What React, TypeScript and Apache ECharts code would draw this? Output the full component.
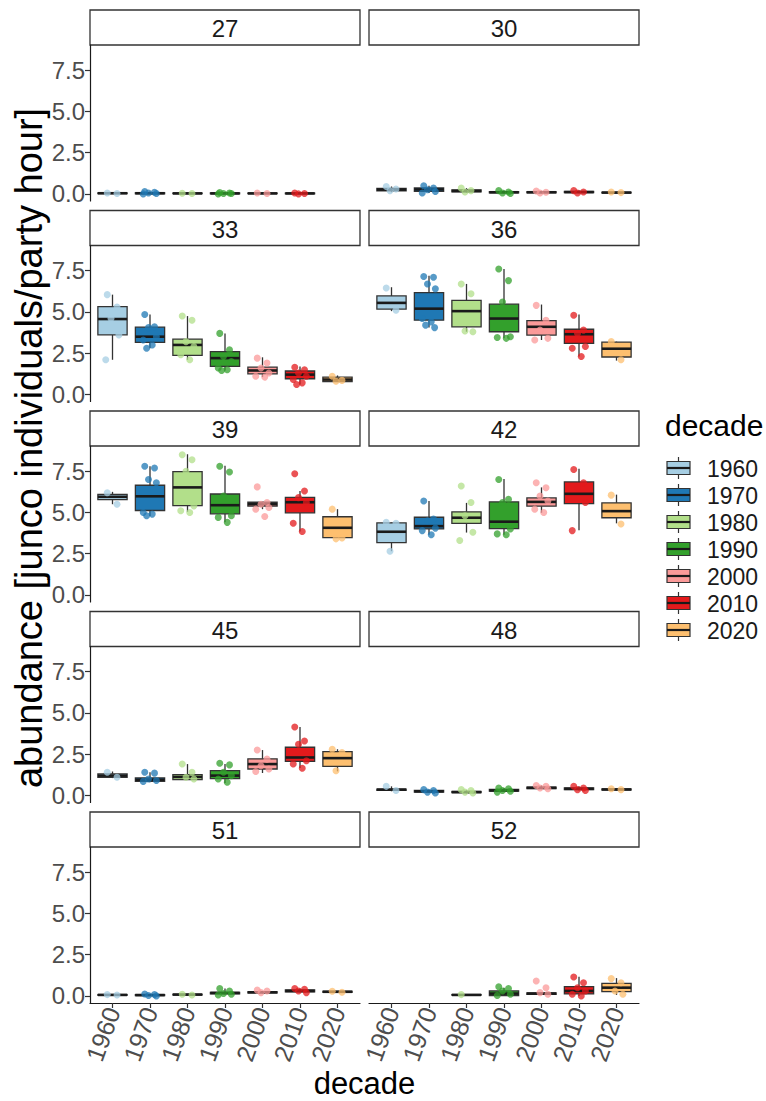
import React, { useEffect, useRef } from "react";
import * as echarts from "echarts";

// ---------- data ----------
const decades = ["1960", "1970", "1980", "1990", "2000", "2010", "2020"];
const decadeColors = ["#A6CEE3", "#1F78B4", "#B2DF8A", "#33A02C", "#FB9A99", "#E31A1C", "#FDBF6F"];
const facets = ["27", "30", "33", "36", "39", "42", "45", "48", "51", "52"];
const yTicks = [0, 2.5, 5, 7.5];
const jitter = [-0.14, 0.12, -0.04, 0.17, -0.18, 0.06, -0.09, 0.15];

// box stats per decade: [lower whisker, q1, median, q3, upper whisker]
const box27 = [[0.0, 0.02, 0.04, 0.06, 0.1], [0.0, 0.01, 0.04, 0.07, 0.15], [0.0, 0.02, 0.03, 0.05, 0.08], [0.0, 0.01, 0.03, 0.06, 0.1], [0.0, 0.02, 0.03, 0.05, 0.08], [0.0, 0.01, 0.03, 0.05, 0.07], null];
const box30 = [[0.1, 0.18, 0.26, 0.34, 0.45], [0.05, 0.15, 0.27, 0.36, 0.5], [0.08, 0.12, 0.18, 0.24, 0.35], [0.02, 0.06, 0.1, 0.14, 0.2], [0.04, 0.07, 0.1, 0.13, 0.18], [0.04, 0.08, 0.11, 0.15, 0.2], [0.04, 0.06, 0.08, 0.1, 0.12]];
const box33 = [[2.1, 3.61, 4.57, 5.32, 6.05], [2.8, 3.15, 3.5, 4.08, 4.85], [2.1, 2.37, 3.0, 3.35, 4.75], [1.45, 1.7, 2.2, 2.6, 3.7], [1.05, 1.25, 1.45, 1.65, 2.25], [0.6, 0.95, 1.2, 1.42, 1.7], [0.75, 0.78, 0.9, 1.05, 1.15]];
const box36 = [[5.05, 5.17, 5.55, 5.97, 6.5], [4.05, 4.5, 5.2, 6.17, 7.2], [3.8, 4.1, 5.05, 5.7, 6.7], [3.4, 3.8, 4.6, 5.47, 7.6], [3.3, 3.6, 4.1, 4.47, 5.45], [2.3, 3.1, 3.65, 3.95, 4.85], [2.05, 2.27, 2.77, 3.17, 3.2]];
const box39 = [[5.5, 5.78, 5.95, 6.1, 6.25], [4.78, 5.12, 5.98, 6.65, 7.8], [5.04, 5.42, 6.52, 7.48, 8.53], [4.4, 4.92, 5.44, 6.12, 7.83], [5.2, 5.38, 5.5, 5.62, 5.65], [3.85, 4.98, 5.62, 5.92, 6.3], [3.45, 3.47, 4.07, 4.74, 5.2]];
const box42 = [[2.65, 3.17, 3.83, 4.37, 4.4], [3.65, 4.0, 4.17, 4.71, 5.7], [3.78, 4.34, 4.68, 5.04, 5.58], [3.65, 4.02, 4.44, 5.64, 7.03], [4.98, 5.38, 5.64, 5.88, 6.52], [3.92, 5.54, 6.13, 6.85, 7.65], [4.34, 4.68, 5.08, 5.58, 6.08]];
const box45 = [[1.05, 1.1, 1.2, 1.3, 1.45], [0.8, 0.86, 0.95, 1.06, 1.4], [0.95, 0.96, 1.12, 1.26, 1.9], [0.76, 1.02, 1.2, 1.5, 1.9], [1.36, 1.6, 1.9, 2.22, 2.75], [1.66, 2.06, 2.3, 2.92, 4.15], [1.46, 1.76, 2.26, 2.66, 2.8]];
const box48 = [[0.25, 0.3, 0.35, 0.38, 0.55], [0.15, 0.2, 0.25, 0.3, 0.35], [0.12, 0.17, 0.2, 0.24, 0.3], [0.2, 0.26, 0.3, 0.36, 0.45], [0.38, 0.42, 0.46, 0.5, 0.6], [0.3, 0.35, 0.4, 0.45, 0.55], [0.3, 0.33, 0.36, 0.39, 0.42]];
const box51 = [[0.03, 0.04, 0.06, 0.08, 0.1], [0.0, 0.02, 0.05, 0.08, 0.12], [0.04, 0.06, 0.08, 0.1, 0.12], [0.08, 0.12, 0.18, 0.22, 0.45], [0.15, 0.18, 0.22, 0.25, 0.3], [0.2, 0.24, 0.3, 0.36, 0.45], [0.2, 0.22, 0.25, 0.28, 0.3]];
const box52 = [null, null, [0.04, 0.05, 0.06, 0.08, 0.1], [0.0, 0.02, 0.14, 0.3, 0.5], [0.08, 0.1, 0.14, 0.18, 0.2], [0.0, 0.12, 0.3, 0.56, 1.16], [0.06, 0.26, 0.5, 0.76, 1.08]];

// jittered observations per decade
const pts27 = [[0.05, 0.03], [0.15, 0.1, 0.05, 0.02, 0.0], [0.04, 0.02], [0.08, 0.05, 0.03, 0.02, 0.0], [0.06, 0.03], [0.05, 0.02, 0.0], []];
const pts30 = [[0.45, 0.3, 0.2], [0.5, 0.35, 0.25, 0.15, 0.05], [0.35, 0.2, 0.12], [0.2, 0.12, 0.06, 0.02], [0.18, 0.1, 0.05], [0.2, 0.12, 0.05], [0.12, 0.08]];
const pts33 = [[6.05, 5.3, 4.6, 3.6, 2.1], [4.85, 4.1, 4.05, 3.5, 3.3, 3.0, 2.8], [4.75, 4.5, 3.2, 2.9, 2.4, 2.1], [3.7, 2.7, 2.3, 2.0, 1.6, 1.5, 1.45], [2.2, 1.9, 1.6, 1.3, 1.1, 1.05], [1.65, 1.5, 1.3, 1.1, 0.9, 0.7, 0.6], [1.1, 0.85, 0.8]];
const pts36 = [[6.45, 5.1], [7.15, 7.1, 6.7, 6.4, 4.6, 4.4, 4.2, 4.05], [6.7, 6.1, 3.85, 3.8], [7.6, 6.9, 5.6, 3.5, 3.45, 3.4], [5.4, 4.5, 3.9, 3.4, 3.3], [4.8, 3.9, 3.7, 2.9, 2.8, 2.3], [3.2, 2.1]];
const pts39 = [[6.2, 5.5], [7.8, 7.7, 7.0, 6.8, 5.0, 4.9, 4.8], [8.5, 8.2, 7.5, 5.4, 5.1, 5.0], [7.8, 7.45, 6.0, 4.8, 4.7, 4.4], [6.55, 5.6, 5.5, 5.3, 5.2, 4.75], [7.35, 6.3, 5.9, 5.6, 4.35, 3.85], [5.2, 3.45, 3.4]];
const pts42 = [[4.4, 4.35, 2.65], [5.7, 4.6, 4.5, 4.05, 3.9, 3.65], [6.6, 5.6, 4.8, 3.8, 3.3], [7.0, 5.8, 5.6, 4.0, 3.7, 3.65], [6.8, 6.5, 6.0, 5.7, 5.2, 5.0], [7.6, 6.8, 6.5, 5.6, 3.9], [6.05, 4.3]];
const pts45 = [[1.4, 1.1], [1.4, 1.35, 1.0, 0.9, 0.85], [1.9, 1.4, 1.1, 1.0], [1.95, 1.85, 1.4, 1.2, 1.0, 0.8], [2.75, 2.2, 1.8, 1.6, 1.45], [4.15, 3.3, 3.1, 2.1, 1.9, 1.65], [2.8, 2.6, 1.5]];
const pts48 = [[0.55, 0.3], [0.35, 0.3, 0.2, 0.15], [0.35, 0.3, 0.2, 0.15], [0.45, 0.4, 0.3, 0.25, 0.2], [0.6, 0.55, 0.45, 0.4], [0.55, 0.45, 0.35, 0.3], [0.4, 0.35]];
const pts51 = [[0.08, 0.05], [0.12, 0.08, 0.02, 0.0], [0.1, 0.06], [0.45, 0.3, 0.15, 0.1, 0.05], [0.35, 0.3, 0.2], [0.45, 0.4, 0.3, 0.2], [0.28, 0.22]];
const pts52 = [[], [], [0.08], [0.55, 0.45, 0.3, 0.1, 0.02], [0.9, 0.5, 0.2, 0.1], [1.15, 0.8, 0.5, 0.3, 0.1, 0.0], [1.05, 0.8, 0.3, 0.1]];

const facetBoxes = [box27, box30, box33, box36, box39, box42, box45, box48, box51, box52];
const facetPoints = [pts27, pts30, pts33, pts36, pts39, pts42, pts45, pts48, pts51, pts52];

// ---------- layout ----------
const colLeft = [90, 369];
const panelW = 270;
const panelTop0 = 45;
const rowStep = 200.5;
const panelH = 156;
const stripH = 35;
const yMin = -0.43;
const yMax = 9.03;
const boxW = 0.78;
const FONT = "Liberation Sans, Arial, Helvetica, sans-serif";

function buildOption() {
  const grids: any[] = [];
  const xAxes: any[] = [];
  const yAxes: any[] = [];
  const series: any[] = [];
  const graphics: any[] = [];

  facets.forEach((name, i) => {
    const r = Math.floor(i / 2);
    const c = i % 2;
    const left = colLeft[c];
    const top = panelTop0 + r * rowStep;
    const bottomRow = r === 4;
    grids.push({ left, top, width: panelW, height: panelH, containLabel: false });
    xAxes.push({
      type: "value",
      gridIndex: i,
      min: -0.6,
      max: 6.6,
      splitLine: { show: false },
      axisLine: { show: bottomRow, onZero: false, lineStyle: { color: "#1a1a1a", width: 1.2 } },
      axisTick: { show: bottomRow, customValues: [0, 1, 2, 3, 4, 5, 6], length: 5, lineStyle: { color: "#333", width: 1.2 } },
      axisLabel: {
        show: bottomRow,
        customValues: [0, 1, 2, 3, 4, 5, 6],
        formatter: (v: number) => decades[Math.round(v)] ?? "",
        rotate: 70,
        fontSize: 25,
        color: "#4D4D4D",
        fontFamily: FONT,
        margin: 5,
      },
    });
    yAxes.push({
      type: "value",
      gridIndex: i,
      min: yMin,
      max: yMax,
      splitLine: { show: false },
      axisLine: { show: c === 0, onZero: false, lineStyle: { color: "#1a1a1a", width: 1.2 } },
      axisTick: { show: c === 0, customValues: yTicks, length: 5, lineStyle: { color: "#333", width: 1.2 } },
      axisLabel: {
        show: c === 0,
        customValues: yTicks,
        formatter: (v: number) => v.toFixed(1),
        fontSize: 24,
        color: "#4D4D4D",
        fontFamily: FONT,
        margin: 5,
      },
    });

    const boxes = facetBoxes[i];
    const boxData: any[] = [];
    boxes.forEach((b, d) => {
      if (b) boxData.push([d, b[0], b[1], b[2], b[3], b[4]]);
    });
    series.push({
      type: "custom",
      xAxisIndex: i,
      yAxisIndex: i,
      z: 2,
      encode: { x: 0, y: [1, 2, 3, 4, 5] },
      data: boxData,
      renderItem: (params: any, api: any) => {
        const x = api.value(0);
        const pLo = api.coord([x, api.value(1)]);
        const pQ1 = api.coord([x, api.value(2)]);
        const pMed = api.coord([x, api.value(3)]);
        const pQ3 = api.coord([x, api.value(4)]);
        const pHi = api.coord([x, api.value(5)]);
        const half = api.size([boxW, 0])[0] / 2;
        const cx = pMed[0];
        const col = decadeColors[x];
        const h = Math.max(pQ1[1] - pQ3[1], 0.5);
        return {
          type: "group",
          children: [
            { type: "line", shape: { x1: cx, y1: pHi[1], x2: cx, y2: pQ3[1] }, style: { stroke: "#333333", lineWidth: 1.3 } },
            { type: "line", shape: { x1: cx, y1: pQ1[1], x2: cx, y2: pLo[1] }, style: { stroke: "#333333", lineWidth: 1.3 } },
            { type: "rect", shape: { x: cx - half, y: pQ3[1], width: half * 2, height: h }, style: { fill: col, stroke: "#333333", lineWidth: 1.3 } },
            { type: "line", shape: { x1: cx - half, y1: pMed[1], x2: cx + half, y2: pMed[1] }, style: { stroke: "#1a1a1a", lineWidth: 2.6 } },
          ],
        };
      },
    });

    const pts = facetPoints[i];
    const ptData: any[] = [];
    pts.forEach((vals, d) => {
      vals.forEach((v, k) => {
        ptData.push({ value: [d + jitter[k % jitter.length], v], itemStyle: { color: decadeColors[d] } });
      });
    });
    series.push({
      type: "scatter",
      xAxisIndex: i,
      yAxisIndex: i,
      z: 3,
      symbolSize: 7,
      itemStyle: { opacity: 0.75 },
      data: ptData,
    });

    // strip
    graphics.push({
      type: "rect",
      shape: { x: left, y: top - stripH, width: panelW, height: stripH },
      style: { fill: "#ffffff", stroke: "#333333", lineWidth: 1.3 },
    });
    graphics.push({
      type: "text",
      x: left + panelW / 2,
      y: top - stripH / 2 + 1,
      style: { text: name, fontSize: 24, fill: "#1A1A1A", fontFamily: FONT, align: "center", verticalAlign: "middle" },
    });
  });

  // axis titles
  graphics.push({
    type: "text",
    x: 29,
    y: 448,
    rotation: Math.PI / 2,
    style: { text: "abundance [junco individuals/party hour]", fontSize: 38, fill: "#000", fontFamily: FONT, align: "center", verticalAlign: "middle" },
  });
  graphics.push({
    type: "text",
    x: 364.5,
    y: 1083,
    style: { text: "decade", fontSize: 31, fill: "#000", fontFamily: FONT, align: "center", verticalAlign: "middle" },
  });

  // legend
  graphics.push({
    type: "text",
    x: 665,
    y: 425,
    style: { text: "decade", fontSize: 30, fill: "#000", fontFamily: FONT, align: "left", verticalAlign: "middle" },
  });
  decades.forEach((d, k) => {
    const cy = 468 + k * 27;
    const kx = 667;
    const kw = 23;
    graphics.push({ type: "line", shape: { x1: kx + kw / 2, y1: cy - 11, x2: kx + kw / 2, y2: cy + 11 }, style: { stroke: "#333333", lineWidth: 1.2 } });
    graphics.push({ type: "rect", shape: { x: kx, y: cy - 6.5, width: kw, height: 13 }, style: { fill: decadeColors[k], stroke: "#333333", lineWidth: 1.2 } });
    graphics.push({ type: "line", shape: { x1: kx, y1: cy, x2: kx + kw, y2: cy }, style: { stroke: "#1a1a1a", lineWidth: 2.2 } });
    graphics.push({
      type: "text",
      x: 707,
      y: cy + 1,
      style: { text: d, fontSize: 23, fill: "#1A1A1A", fontFamily: FONT, align: "left", verticalAlign: "middle" },
    });
  });

  return {
    animation: false,
    backgroundColor: "#ffffff",
    textStyle: { fontFamily: FONT },
    grid: grids,
    xAxis: xAxes,
    yAxis: yAxes,
    series,
    graphic: graphics,
  };
}

export default function App() {
  const ref = useRef<HTMLDivElement>(null);
  useEffect(() => {
    if (!ref.current) return;
    const chart = echarts.init(ref.current, null, { renderer: "svg" });
    chart.setOption(buildOption() as any);
    return () => chart.dispose();
  }, []);
  return <div ref={ref} style={{ position: "absolute", left: 0, top: 0, width: 766, height: 1101, background: "#fff" }} />;
}
